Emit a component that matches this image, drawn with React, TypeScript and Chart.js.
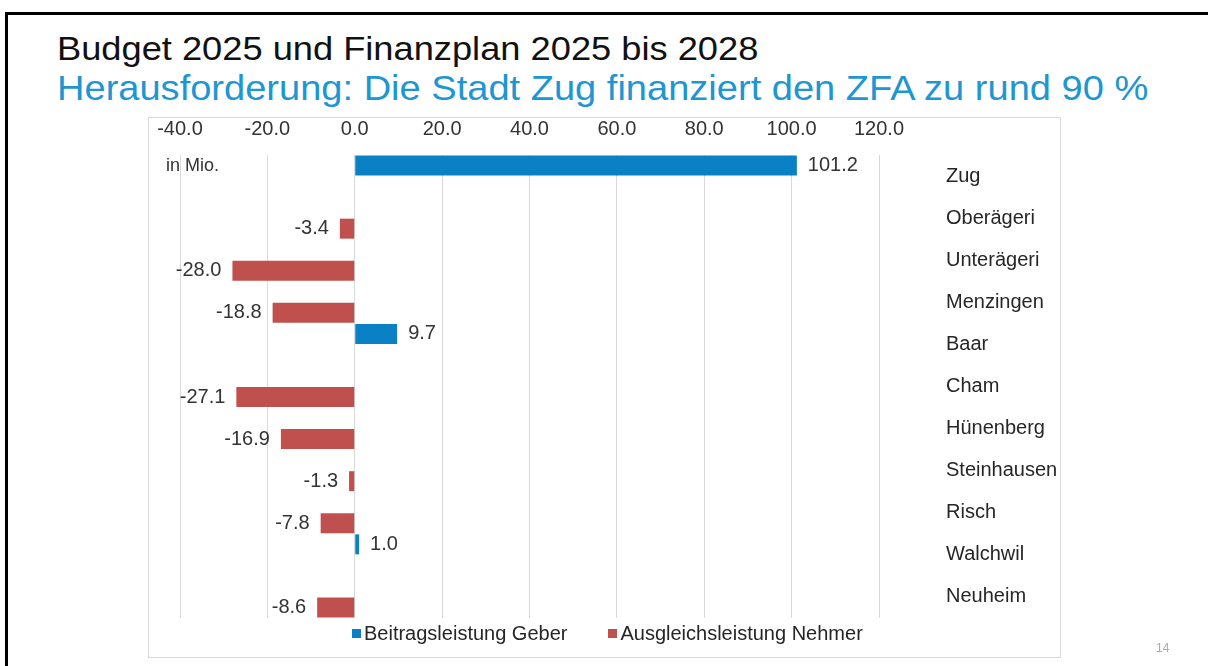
import React, { useEffect, useRef } from 'react';
import { Chart, registerables } from 'chart.js';

Chart.register(...registerables);

const categories = ['Zug', 'Oberägeri', 'Unterägeri', 'Menzingen', 'Baar', 'Cham', 'Hünenberg', 'Steinhausen', 'Risch', 'Walchwil', 'Neuheim'];
const geberValues = [101.2, null, null, null, 9.7, null, null, null, null, 1.0, null];
const nehmerValues = [null, -3.4, -28.0, -18.8, null, -27.1, -16.9, -1.3, -7.8, null, -8.6];
const xTicks = [-40, -20, 0, 20, 40, 60, 80, 100, 120];
const seriesLabels = ['Beitragsleistung Geber', 'Ausgleichsleistung Nehmer'];
const seriesColors = ['#0A81C4', '#C0504D'];

const FONT = "'Liberation Sans', Arial, sans-serif";

export default function App() {
  const ref = useRef<HTMLCanvasElement>(null);

  useEffect(() => {
    const canvas = ref.current;
    if (!canvas) return;

    const valueLabels = {
      id: 'valueLabels',
      afterDatasetsDraw(chart: any) {
        const ctx = chart.ctx;
        ctx.save();
        ctx.font = `20px ${FONT}`;
        ctx.fillStyle = '#333333';
        ctx.textBaseline = 'middle';
        chart.data.datasets.forEach((ds: any, i: number) => {
          const meta = chart.getDatasetMeta(i);
          meta.data.forEach((el: any, j: number) => {
            const v = ds.data[j];
            if (v === null || v === undefined) return;
            const pos = v >= 0;
            ctx.textAlign = pos ? 'left' : 'right';
            ctx.fillText(v.toFixed(1), pos ? el.x + 11 : el.x - 11, el.y);
          });
        });
        const area = chart.chartArea;
        ctx.font = `18px ${FONT}`;
        ctx.textAlign = 'left';
        ctx.fillText('in Mio.', area.left - 14, area.top + 11);
        ctx.restore();
      },
    };

    const chart = new Chart(canvas, {
      type: 'bar',
      data: {
        labels: categories,
        datasets: [
          {
            label: seriesLabels[0],
            data: geberValues,
            backgroundColor: seriesColors[0],
            barPercentage: 0.95,
            categoryPercentage: 1.0,
          },
          {
            label: seriesLabels[1],
            data: nehmerValues,
            backgroundColor: seriesColors[1],
            barPercentage: 0.95,
            categoryPercentage: 1.0,
          },
        ],
      },
      options: {
        indexAxis: 'y',
        responsive: false,
        animation: false,
        devicePixelRatio: 1,
        layout: { padding: { left: 180, top: 100, right: 0, bottom: 48 } },
        plugins: {
          legend: { display: false },
          tooltip: { enabled: false },
        },
        scales: {
          x: {
            position: 'top',
            min: -40,
            max: 120,
            afterBuildTicks: (s: any) => {
              s.ticks = xTicks.map((v) => ({ value: v }));
            },
            afterFit: (s: any) => {
              s.height = 55;
            },
            ticks: {
              callback: (v: any) => Number(v).toFixed(1),
              font: { family: FONT, size: 20 },
              color: '#333333',
              padding: 14,
              maxRotation: 0,
              autoSkip: false,
            },
            grid: { color: '#d9d9d9', drawTicks: false, lineWidth: 1 },
            border: { display: false },
          },
          y: {
            position: 'right',
            afterFit: (s: any) => {
              s.width = 329;
            },
            ticks: {
              font: { family: FONT, size: 20 },
              color: '#262626',
              padding: 0,
              autoSkip: false,
            },
            grid: { display: false, drawTicks: true, tickLength: 67 },
            border: { display: false },
          },
        },
      },
      plugins: [valueLabels],
    } as any);

    return () => chart.destroy();
  }, []);

  return (
    <div style={{ position: 'absolute', left: 0, top: 0, width: 1208, height: 666, overflow: 'hidden', background: '#fff', fontFamily: FONT }}>
      <div style={{ position: 'absolute', left: 5, top: 12, width: 1400, height: 900, borderLeft: '3px solid #000', borderTop: '3px solid #000' }} />
      <div style={{ position: 'absolute', left: 57, top: 30.5, fontSize: 34, lineHeight: '34px', color: '#111', whiteSpace: 'nowrap', transform: 'scaleX(1.066)', transformOrigin: 'left top' }}>
        Budget 2025 und Finanzplan 2025 bis 2028
      </div>
      <div style={{ position: 'absolute', left: 57, top: 70.4, fontSize: 35, lineHeight: '35px', color: '#1E96D2', whiteSpace: 'nowrap', transform: 'scaleX(1.087)', transformOrigin: 'left top' }}>
        Herausforderung: Die Stadt Zug finanziert den ZFA zu rund 90 %
      </div>
      <div style={{ position: 'absolute', left: 148, top: 117, width: 913, height: 541, border: '1px solid #d9d9d9', boxSizing: 'border-box' }} />
      <canvas ref={ref} width={1208} height={666} style={{ position: 'absolute', left: 0, top: 0, width: 1208, height: 666 }} />
      <div style={{ position: 'absolute', left: 352, top: 623, display: 'flex', gap: 41, fontSize: 20, lineHeight: '20px', color: '#262626', whiteSpace: 'nowrap' }}>
        {seriesLabels.map((l, i) => (
          <div key={l} style={{ display: 'flex', alignItems: 'center' }}>
            <span style={{ display: 'inline-block', width: 9, height: 9, background: seriesColors[i], marginRight: 3 }} />
            <span>{l}</span>
          </div>
        ))}
      </div>
      <div style={{ position: 'absolute', left: 1156, top: 642, fontSize: 12, lineHeight: '12px', color: '#aaa' }}>14</div>
    </div>
  );
}
